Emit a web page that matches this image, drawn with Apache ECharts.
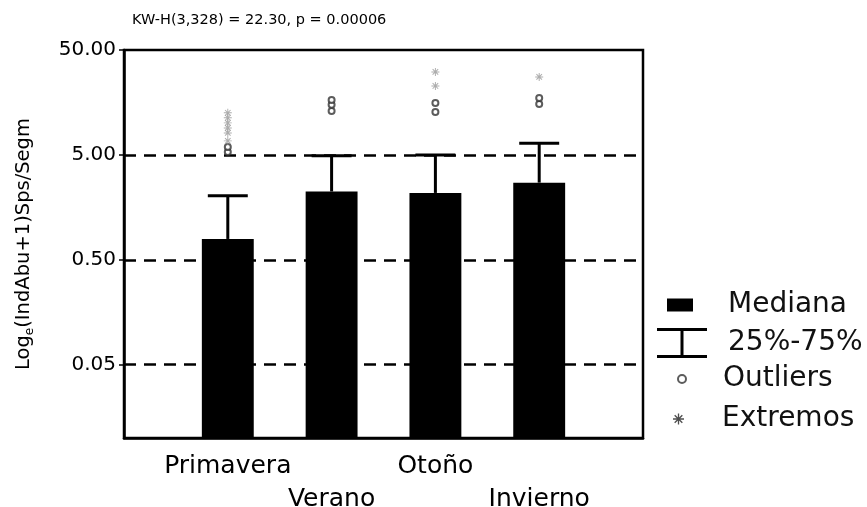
<!DOCTYPE html>
<html><head><meta charset="utf-8">
<script src="https://cdn.jsdelivr.net/npm/echarts@6/dist/echarts.min.js"></script>
<style>html,body{margin:0;padding:0;background:#fff}#c{width:867px;height:507px}</style>
</head><body><div id="c"></div>
<script>
// ---- data ----
const categories = ['', 'Primavera', 'Verano', 'Otoño', 'Invierno', ''];
const seasons = ['Primavera', 'Verano', 'Otoño', 'Invierno'];
const medianValues = [0.79, 2.24, 2.17, 2.72];
const q75Values = [2.04, 4.9, 5.0, 6.46];
const outliersPrimavera = [5.34, 5.96];
const outliersVerano = [13.1, 15.0, 16.7];
const outliersOtono = [12.8, 15.6];
const outliersInvierno = [15.3, 17.4];
const extremesPrimavera = [6.8, 8.1, 9.04, 10.1, 11.3, 12.6];
const extremesVerano = [];
const extremesOtono = [22.7, 30.9];
const extremesInvierno = [27.7];
const yTickValues = [0.05, 0.5, 5, 50];
const dashedLineValues = [0.05, 0.5, 5];
const Y_MIN = 0.01, Y_MAX = 50;
const titleText = 'KW-H(3,328) = 22.30, p = 0.00006';

const FONT = 'DejaVu Sans';
const INK = '#000';
const ASTERISK = 'path://M-0.6,-5h1.2v10h-1.2z M-5,-0.6h10v1.2h-10z M-3.9,-3.05L-3.05,-3.9L3.9,3.05L3.05,3.9Z M3.05,-3.9L3.9,-3.05L-3.05,3.9L-3.9,3.05Z';
const IBEAM = 'path://M0,0h50v3h-50z M23.5,3h3v24h-3z M0,27h50v3h-50z';

const catIndex = name => categories.indexOf(name);
const outlierLists = [outliersPrimavera, outliersVerano, outliersOtono, outliersInvierno];
const extremeLists = [extremesPrimavera, extremesVerano, extremesOtono, extremesInvierno];
const outlierData = [], extremeData = [];
seasons.forEach((s, i) => {
  outlierLists[i].forEach(v => outlierData.push([catIndex(s), v]));
  extremeLists[i].forEach(v => extremeData.push([catIndex(s), v]));
});
const barData = seasons.map((s, i) => [catIndex(s), medianValues[i]]);
const whiskerData = seasons.map((s, i) => [catIndex(s), medianValues[i], q75Values[i]]);

function renderBar(params, api) {
  const x = api.value(0), v = api.value(1);
  const top = api.coord([x, v]);
  const bottom = api.coord([x, Y_MIN]);
  const band = api.coord([x + 1, v])[0] - top[0];
  const w = band * 0.5;
  return { type: 'rect', shape: { x: top[0] - w / 2, y: top[1], width: w, height: bottom[1] - top[1] },
    style: { fill: '#000' } };
}
function renderWhisker(params, api) {
  const x = api.value(0), lo = api.value(1), hi = api.value(2);
  const p0 = api.coord([x, lo]), p1 = api.coord([x, hi]);
  const band = api.coord([x + 1, hi])[0] - p1[0];
  const cw = band * 0.385;
  const st = { stroke: '#000', lineWidth: 3 };
  return { type: 'group', children: [
    { type: 'line', shape: { x1: p0[0], y1: p0[1], x2: p1[0], y2: p1[1] }, style: st },
    { type: 'line', shape: { x1: p1[0] - cw / 2, y1: p1[1], x2: p1[0] + cw / 2, y2: p1[1] }, style: st }
  ] };
}

const legendText = (pad) => ({ fontSize: 28, fontFamily: FONT, color: '#111', lineHeight: 34, padding: [0, 0, 0, pad] });

const option = {
  animation: false,
  backgroundColor: '#fff',
  title: { text: titleText, left: 127, top: 8,
    textStyle: { fontSize: 14.5, fontWeight: 'normal', fontFamily: FONT, color: INK } },
  grid: { left: 124, top: 50, right: 224, bottom: 69, outerBoundsMode: 'none', containLabel: false,
    show: true, borderColor: '#000', borderWidth: 2.5, backgroundColor: 'transparent' },
  legend: [
    { data: [{ name: 'Mediana', icon: 'rect' }], left: 667, top: 288, padding: 0, orient: 'vertical',
      itemWidth: 26, itemHeight: 13, selectedMode: false, textStyle: legendText(30) },
    { data: [{ name: '25%-75%', icon: IBEAM }], left: 657, top: 326, padding: 0, orient: 'vertical',
      itemWidth: 50, itemHeight: 30, selectedMode: false, textStyle: legendText(16) },
    { data: [{ name: 'Outliers', icon: 'emptyCircle' }], left: 677, top: 362, padding: 0, orient: 'vertical',
      itemWidth: 8, itemHeight: 8, selectedMode: false, textStyle: legendText(32) },
    { data: [{ name: 'Extremos', icon: ASTERISK, itemStyle: { color: '#222' } }], left: 673, top: 402, padding: 0, orient: 'vertical',
      itemWidth: 11, itemHeight: 11, selectedMode: false, textStyle: legendText(33) }
  ],
  xAxis: {
    type: 'category', data: categories, boundaryGap: false,
    axisLine: { lineStyle: { color: '#000', width: 2.5 } },
    axisTick: { show: false },
    splitLine: { show: false },
    axisLabel: { interval: 0, fontSize: 25, fontFamily: FONT, color: INK, lineHeight: 33, margin: 12,
      formatter: (v, i) => (i % 2 === 0 ? '\n' + v : v) }
  },
  yAxis: {
    type: 'log', logBase: 10, min: Y_MIN, max: Y_MAX,
    name: 'Log{e|e}(IndAbu+1)Sps/Segm', nameLocation: 'middle', nameRotate: 90, nameGap: 88,
    nameTextStyle: { fontSize: 19.5, fontFamily: FONT, color: INK, lineHeight: 24,
      rich: { e: { fontSize: 12, fontFamily: FONT, color: INK, verticalAlign: 'bottom', lineHeight: 24 } } },
    axisLine: { show: true, lineStyle: { color: '#000', width: 2.5 } },
    axisTick: { show: true, length: 5, customValues: yTickValues, lineStyle: { color: '#000', width: 1.5 } },
    splitLine: { show: false },
    minorTick: { show: false },
    axisLabel: { customValues: yTickValues, fontSize: 20, fontFamily: FONT, color: INK, margin: 8,
      formatter: v => Number(v).toFixed(2) }
  },
  series: [
    { name: 'Mediana', type: 'custom', renderItem: renderBar, data: barData, encode: { x: 0, y: 1 },
      itemStyle: { color: '#000' }, z: 3,
      markLine: { silent: true, symbol: ['none', 'none'], label: { show: false },
        lineStyle: { color: '#000', width: 2.5, type: [12, 8] },
        data: dashedLineValues.map(v => ({ yAxis: v })) } },
    { name: '25%-75%', type: 'custom', renderItem: renderWhisker, data: whiskerData, encode: { x: 0, y: [1, 2] },
      itemStyle: { color: '#000' }, z: 4 },
    { name: 'Outliers', type: 'scatter', data: outlierData, symbol: 'emptyCircle', symbolSize: 6,
      itemStyle: { color: '#333', borderWidth: 1.2 }, z: 5 },
    { name: 'Extremos', type: 'scatter', data: extremeData, symbol: ASTERISK, symbolSize: 8,
      itemStyle: { color: '#999' }, z: 5 }
  ]
};
const chart = echarts.init(document.getElementById('c'), null, { renderer: 'canvas' });
chart.setOption(option);
</script>
</body></html>
